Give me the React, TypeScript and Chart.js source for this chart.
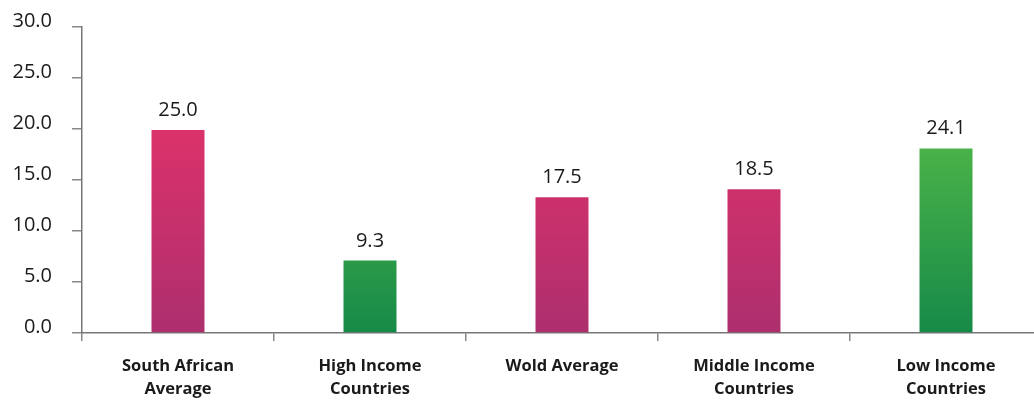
import React, { useEffect, useRef } from "react";
import { Chart, registerables } from "chart.js";

Chart.register(...registerables);

const categories: string[][] = [
  ["South African", "Average"],
  ["High Income", "Countries"],
  ["Wold Average"],
  ["Middle Income", "Countries"],
  ["Low Income", "Countries"],
];
// Bar heights as drawn against the printed axis
const barHeights: number[] = [19.9, 7.1, 13.3, 14.1, 18.1];
// Value labels printed above the bars
const valueLabels: string[] = ["25.0", "9.3", "17.5", "18.5", "24.1"];
const barKinds: string[] = ["pink", "green", "pink", "pink", "green"];
const yTicks: number[] = [0, 5, 10, 15, 20, 25, 30];

const FONT = "'Open Sans', 'Noto Sans', sans-serif";

export default function App() {
  const ref = useRef<HTMLCanvasElement | null>(null);

  useEffect(() => {
    document.body.style.margin = "0";
    document.body.style.overflow = "hidden";
    const canvas = ref.current;
    if (!canvas) return;

    const valueLabelPlugin = {
      id: "valueLabels",
      afterDatasetsDraw(chart: any) {
        const ctx = chart.ctx;
        const meta = chart.getDatasetMeta(0);
        ctx.save();
        ctx.font = `500 20px ${FONT}`;
        ctx.fillStyle = "#1a1a1a";
        ctx.textAlign = "center";
        ctx.textBaseline = "alphabetic";
        meta.data.forEach((bar: any, i: number) => {
          ctx.fillText(valueLabels[i], bar.x, bar.y - 14);
        });
        ctx.restore();
      },
    };

    const bg = (c: any) => {
      const chart = c.chart;
      const area = chart.chartArea;
      const kind = barKinds[c.dataIndex];
      if (!area) return kind === "pink" ? "#d0336c" : "#3aa64a";
      const g = chart.ctx.createLinearGradient(0, area.top + 90, 0, area.bottom);
      if (kind === "pink") {
        g.addColorStop(0, "#de326a");
        g.addColorStop(1, "#ad2f6e");
      } else {
        g.addColorStop(0, "#52b848");
        g.addColorStop(1, "#168a48");
      }
      return g;
    };

    const chart = new Chart(canvas, {
      type: "bar",
      data: {
        labels: categories,
        datasets: [
          {
            data: barHeights,
            backgroundColor: bg,
            borderWidth: 0,
            categoryPercentage: 1,
            barPercentage: 0.276,
          },
        ],
      },
      plugins: [valueLabelPlugin],
      options: {
        animation: false,
        responsive: false,
        maintainAspectRatio: false,
        layout: { padding: { top: 27, right: 0, bottom: 0, left: 0 } },
        plugins: {
          legend: { display: false },
          tooltip: { enabled: false },
        },
        scales: {
          x: {
            offset: true,
            grid: {
              offset: true,
              drawOnChartArea: false,
              drawTicks: true,
              tickLength: 8,
              color: "#888",
              lineWidth: 1.5,
            },
            border: { display: true, color: "#777", width: 1.5 },
            ticks: {
              color: "#1a1a1a",
              font: { family: FONT, size: 16.5, weight: "bold", lineHeight: 1.4 },
              padding: 14,
              maxRotation: 0,
              autoSkip: false,
            },
            afterFit(scale: any) {
              scale.height = 68;
            },
          },
          y: {
            min: 0,
            max: 30,
            afterBuildTicks(scale: any) {
              scale.ticks = yTicks.map((v) => ({ value: v }));
            },
            grid: {
              drawOnChartArea: false,
              drawTicks: true,
              tickLength: 10,
              color: "#888",
              lineWidth: 1.5,
            },
            border: { display: true, color: "#777", width: 1.5 },
            ticks: {
              color: "#1a1a1a",
              font: { family: FONT, size: 20, weight: "500" },
              padding: 20,
              labelOffset: -6,
              callback: (v: any) => Number(v).toFixed(1),
            },
            afterFit(scale: any) {
              scale.width = 82;
              scale.paddingTop = 8;
              scale.paddingBottom = 8;
            },
          },
        },
      },
    });
    return () => chart.destroy();
  }, []);

  return (
    <div style={{ position: "absolute", left: 0, top: 0, width: 1042, height: 401 }}>
      <canvas ref={ref} width={1042} height={401} style={{ width: 1042, height: 401 }} />
    </div>
  );
}
